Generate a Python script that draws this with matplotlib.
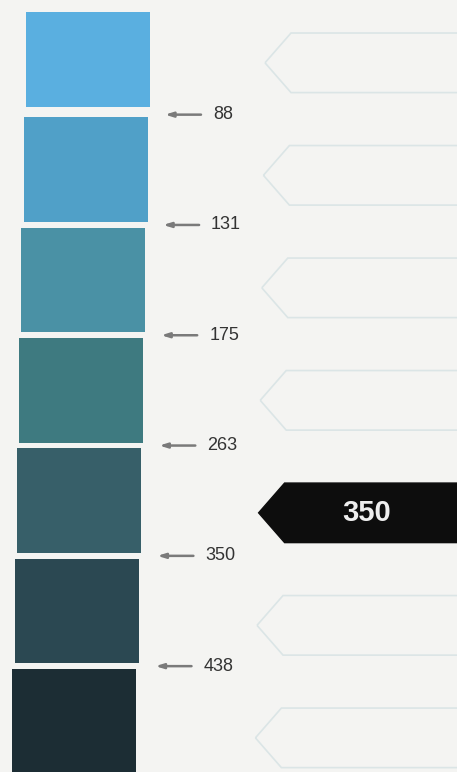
import matplotlib
matplotlib.use("Agg")
import matplotlib.pyplot as plt
from matplotlib.patches import Polygon

# ---- data ----
swatch_colors = ["#5aafe0", "#50a0c8", "#4a91a5", "#3e7a80", "#375f69", "#2b4852", "#1c2d34"]
levels = [88, 131, 175, 263, 350, 438]          # labels between swatches
selected_value = 350
selected_row = 4                                 # row index of the highlighted tag

W, H = 457, 772
fig = plt.figure(figsize=(W / 100, H / 100), dpi=100)
bg = "#f4f4f2"
fig.patch.set_facecolor(bg)
ax = fig.add_axes([0, 0, 1, 1])
ax.set_facecolor(bg)
row_px = 110.3
top_px = 59.5
ax.set_xlim(0, W)
ax.set_ylim((H - top_px) / row_px, -top_px / row_px)
ax.axis("off")

n = len(swatch_colors)
rows = list(range(n))
lefts = [26 - 2.3 * i for i in rows]
heights = [0.87] + [0.95] * (n - 1)
ax.barh(rows, [124] * n, left=lefts, height=heights, color=swatch_colors, edgecolor="none")

# arrows + level labels
for i, v in enumerate(levels):
    y = i + 0.5
    x0 = 165 - 1.9 * i
    ax.annotate("", xy=(x0, y), xytext=(x0 + 36, y),
                arrowprops=dict(arrowstyle="-|>,head_length=0.45,head_width=0.14",
                                color="#7a7a7a", lw=1.8, shrinkA=0, shrinkB=0))
    ax.text(x0 + 48, y, str(v), ha="left", va="center", fontsize=13,
            family=["Liberation Sans", "DejaVu Sans"], color="#333333")

# tags on the right
tag_h = 0.54
for i in rows:
    yc = i + 0.03 + 0.02 * i
    xp = 265 - 1.6 * i
    xb = xp + 26
    pts = [(xp, yc), (xb, yc - tag_h / 2), (W + 10, yc - tag_h / 2),
           (W + 10, yc + tag_h / 2), (xb, yc + tag_h / 2)]
    if i == selected_row:
        ax.add_patch(Polygon(pts, closed=True, facecolor="#0d0d0d", edgecolor="#0d0d0d", lw=1))
        ax.text(367, yc, str(selected_value), ha="center", va="center", fontsize=21,
                fontweight="bold", family=["Liberation Sans", "DejaVu Sans"], color="#eeeeee")
    else:
        ax.add_patch(Polygon(pts, closed=True, facecolor="none", edgecolor="#dbe5e6", lw=1.2))

fig.savefig("out.png", dpi=100, facecolor=bg)
